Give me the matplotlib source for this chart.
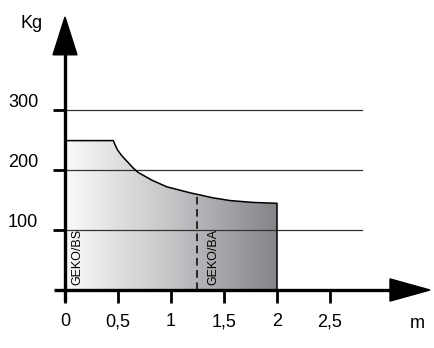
import matplotlib.pyplot as plt
import numpy as np
from matplotlib.patches import Polygon
from matplotlib.colors import LinearSegmentedColormap

plt.rcParams['font.family'] = ['Liberation Sans', 'DejaVu Sans']

# load curve
dist = [0, 0.456, 0.472, 0.497, 0.535, 0.582, 0.645, 0.69, 0.82, 0.96, 1.18, 1.4, 1.56, 1.77, 2.0]
load = [249, 249, 242, 233, 224, 215, 203, 196, 183, 172, 162, 153.5, 149, 146, 144.5]
split = 1.25
xticks = [0, 0.5, 1, 1.5, 2, 2.5]
xlabels = ['0', '0,5', '1', '1,5', '2', '2,5']
yticks = [100, 200, 300]

fig = plt.figure(figsize=(4.35, 3.48), dpi=100)
ax = fig.add_axes([0, 0, 1, 1])
ax.set_xlim(-65 / 106, 370 / 106)
ax.set_ylim(-58 / 0.6, 290 / 0.6)
ax.axis('off')

# gradient fill under curve
poly = [(0, 0)] + list(zip(dist, load)) + [(2, 0)]
patch = Polygon(poly, closed=True, facecolor='none', edgecolor='none')
ax.add_patch(patch)
grad = np.linspace(0, 1, 256).reshape(1, -1)
cmap = LinearSegmentedColormap.from_list('g', ['#fafafa', '#c4c5c7', '#848589'])
im = ax.imshow(grad, cmap=cmap, extent=[0, 2, 0, 260], aspect='auto', zorder=2)
im.set_clip_path(patch)

# grid lines
for v in yticks:
    ax.plot([0, 2.8], [v, v], color='#333333', lw=0.9, zorder=3)

ax.plot(dist + [2], load + [0], color='black', lw=1.1, zorder=3)

# dashed split
ax.plot([split, split], [0, np.interp(split, dist, load)], color='black', lw=1.1,
        ls=(0, (5, 3)), zorder=3)

ax.text(0.12, 8, 'GEKO/BS', rotation=90, fontsize=9, ha='center', va='bottom', zorder=4)
ax.text(1.40, 9, 'GEKO/BA', rotation=90, fontsize=9, ha='center', va='bottom', zorder=4)

# axes with arrows
ax.plot([0, 0], [-20, 395], color='black', lw=2.4, zorder=5, solid_capstyle='butt')
ax.plot([-0.1, 3.07], [0, 0], color='black', lw=2.4, zorder=5, solid_capstyle='butt')
ax.add_patch(Polygon([(-0.113, 392), (0.113, 392), (0, 455)], closed=True,
                     color='black', zorder=6))
ax.add_patch(Polygon([(3.066, 18.5), (3.066, -18.5), (3.443, 0)], closed=True,
                     color='black', zorder=6))

for t, lab in zip(xticks, xlabels):
    ax.plot([t, t], [0, -21], color='black', lw=2, zorder=5, solid_capstyle='butt')
    ax.text(t, -53, lab, fontsize=13, ha='center', va='center')
for v in yticks:
    ax.plot([-0.11, 0], [v, v], color='black', lw=2, zorder=5, solid_capstyle='butt')
    ax.text(-0.396, v + 12, str(v), fontsize=13, ha='center', va='center')

ax.text(-0.32, 445, 'Kg', fontsize=13, ha='center', va='center')
ax.text(3.32, -55, 'm', fontsize=13, ha='center', va='center')

fig.savefig('out.png', dpi=100)
